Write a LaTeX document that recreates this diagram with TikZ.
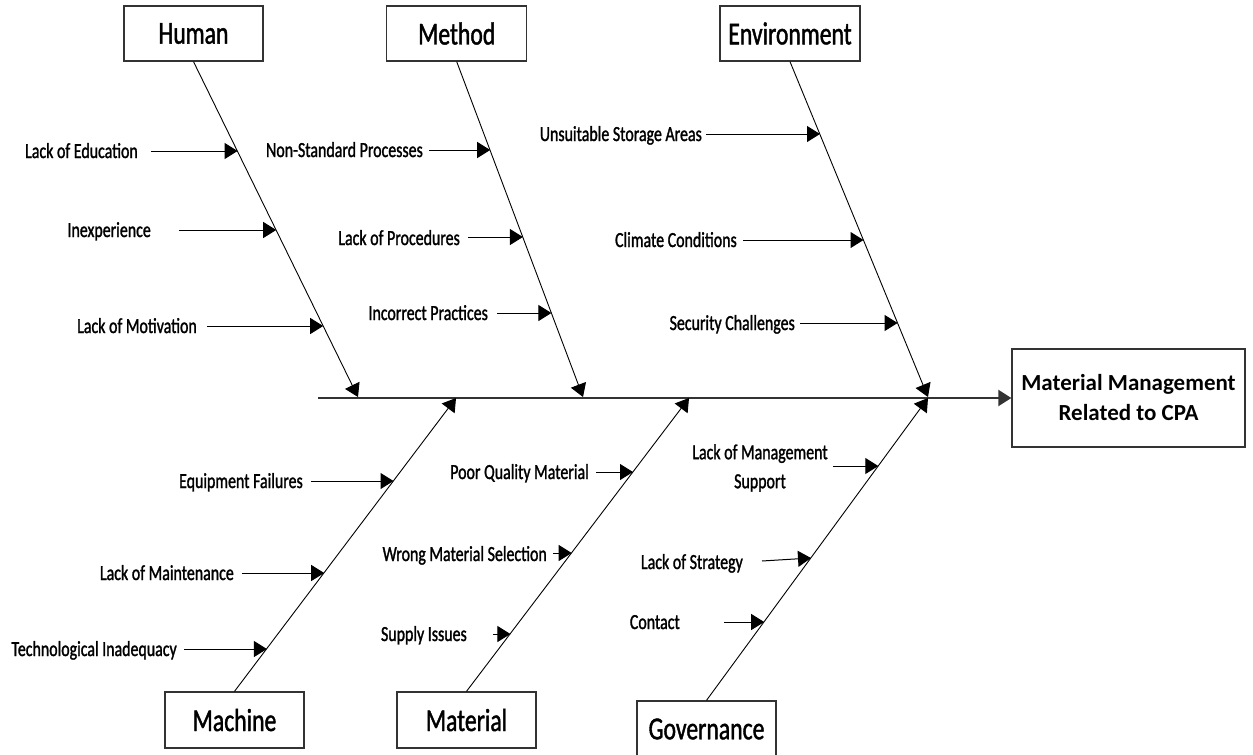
\documentclass[tikz,border=0pt]{standalone}
\usepackage{fontspec}
\setmainfont{Carlito}
\newfontfamily\condfont[FakeStretch=0.74,FakeBold=1.3]{Carlito}
\usetikzlibrary{arrows.meta}
\begin{document}
\begin{tikzpicture}[x=1pt,y=-1pt,
  catbox/.style={draw=black!80, line width=1.3pt, minimum width=139pt, minimum height=55pt, inner sep=0pt,
    font=\condfont\fontsize{32}{36}\selectfont},
  resbox/.style={draw=black!80, line width=1.3pt, minimum width=233pt, minimum height=98pt, inner sep=0pt,
    align=center, font=\bfseries\fontsize{23}{30}\selectfont},
  cause/.style={font=\condfont\fontsize{21.5}{29}\selectfont, inner sep=0pt, anchor=base east},
  tip/.style={-{Triangle[length=13pt,width=16pt]}},
  bone/.style={tip, line width=0.9pt, draw=black},
  twig/.style={tip, line width=1pt, draw=black},
  spine/.style={tip, line width=2pt, draw=black!80}
]
\clip (0,0) rectangle (1253,755);

% category boxes
\node[catbox] (human) at (193.5,33.5) {Human};
\node[catbox, minimum width=140pt] (method) at (456.7,33.5) {Method};
\node[catbox, minimum width=140pt] (env) at (790,33.5) {Environment};
\node[catbox, minimum height=56pt] (machine) at (234.5,720) {Machine};
\node[catbox, minimum height=56pt] (material) at (466.5,720) {Material};
\node[catbox, minimum height=56pt] (gov) at (706.5,729) {Governance};
\node[resbox] (res) at (1128.5,398) {Material Management\\Related to CPA};

% spine
\coordinate (sp0) at (318,398);
\draw[spine] (sp0) -- (res.west);

% bone tips on spine
\coordinate (humtip) at (358,397);
\coordinate (mettip) at (583,397);
\coordinate (envtip) at (928,397);
\coordinate (mactip) at (456,398);
\coordinate (mattip) at (689,398);
\coordinate (govtip) at (928,398);

\draw[bone] (human.south) -- (humtip);
\draw[bone] (method.south) -- (mettip);
\draw[bone] (env.south) -- (envtip);
\draw[bone] (machine.north) -- (mactip);
\draw[bone] (material.north) -- (mattip);
\draw[bone] (gov.north) -- (govtip);

% Human causes
\node[cause] (h1) at (138,158) {Lack of Education};
\coordinate (h1s) at (151,151); \coordinate (h1t) at (237.6,151);
\node[cause] (h2) at (151,237) {Inexperience};
\coordinate (h2s) at (179,230); \coordinate (h2t) at (276.2,230);
\node[cause] (h3) at (197,333) {Lack of Motivation};
\coordinate (h3s) at (207,326); \coordinate (h3t) at (323.2,326);
\draw[twig] (h1s) -- (h1t);
\draw[twig] (h2s) -- (h2t);
\draw[twig] (h3s) -- (h3t);

% Method causes
\node[cause] (m1) at (423,157) {Non-Standard Processes};
\coordinate (m1s) at (429,150); \coordinate (m1t) at (490.2,150);
\node[cause] (m2) at (460,245) {Lack of Procedures};
\coordinate (m2s) at (468,237); \coordinate (m2t) at (522.9,237);
\node[cause] (m3) at (488,320) {Incorrect Practices};
\coordinate (m3s) at (497,313); \coordinate (m3t) at (551.4,313);
\draw[twig] (m1s) -- (m1t);
\draw[twig] (m2s) -- (m2t);
\draw[twig] (m3s) -- (m3t);

% Environment causes
\node[cause] (e1) at (702,141) {Unsuitable Storage Areas};
\coordinate (e1s) at (706,134); \coordinate (e1t) at (820,134);
\node[cause] (e2) at (737,247) {Climate Conditions};
\coordinate (e2s) at (743,240); \coordinate (e2t) at (863.5,240);
\node[cause] (e3) at (795,330) {Security Challenges};
\coordinate (e3s) at (800,323); \coordinate (e3t) at (897.6,323);
\draw[twig] (e1s) -- (e1t);
\draw[twig] (e2s) -- (e2t);
\draw[twig] (e3s) -- (e3t);

% Machine causes
\node[cause] (c1) at (303,488) {Equipment Failures};
\coordinate (c1s) at (311,481); \coordinate (c1t) at (393.5,481);
\node[cause] (c2) at (234,580) {Lack of Maintenance};
\coordinate (c2s) at (242,573); \coordinate (c2t) at (324.2,573);
\node[cause] (c3) at (177,656) {Technological Inadequacy};
\coordinate (c3s) at (184,649); \coordinate (c3t) at (266.9,649);
\draw[twig] (c1s) -- (c1t);
\draw[twig] (c2s) -- (c2t);
\draw[twig] (c3s) -- (c3t);

% Material causes
\node[cause] (t1) at (589,479) {Poor Quality Material};
\coordinate (t1s) at (596,472); \coordinate (t1t) at (633,472);
\node[cause] (t2) at (547,561) {Wrong Material Selection};
\coordinate (t2s) at (553,553); \coordinate (t2t) at (571.7,553);
\node[cause] (t3) at (467,641) {Supply Issues};
\coordinate (t3s) at (493,634); \coordinate (t3t) at (510.4,634);
\draw[twig] (t1s) -- (t1t);
\draw[twig] (t2s) -- (t2t);
\draw[twig] (t3s) -- (t3t);

% Governance causes
\node[font=\condfont\fontsize{21.5}{29}\selectfont, inner sep=0pt, align=center] (g1) at (760,468) {Lack of Management\\Support};
\coordinate (g1s) at (833,466); \coordinate (g1t) at (878.3,466);
\node[cause] (g2) at (743,569) {Lack of Strategy};
\coordinate (g2s) at (762,561); \coordinate (g2t) at (811,558);
\node[cause] (g3) at (680,629) {Contact};
\coordinate (g3s) at (724,622); \coordinate (g3t) at (764.2,622);
\draw[twig] (g1s) -- (g1t);
\draw[twig] (g2s) -- (g2t);
\draw[twig] (g3s) -- (g3t);
\end{tikzpicture}
\end{document}
